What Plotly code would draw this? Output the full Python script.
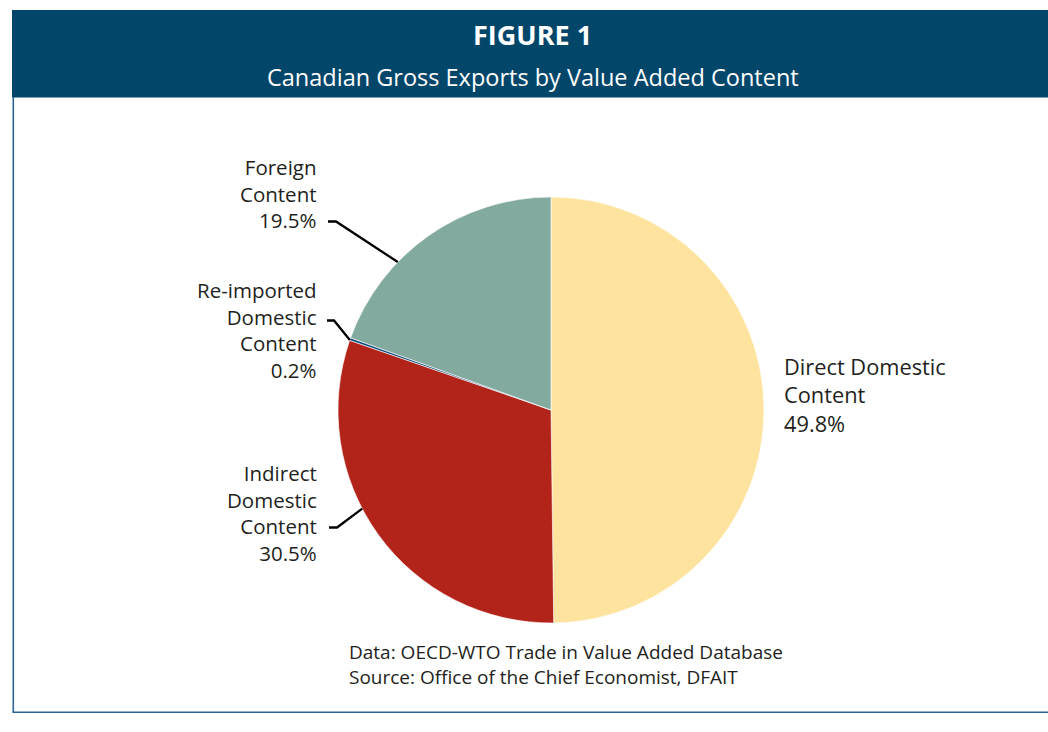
import math
import plotly.graph_objects as go

# Shares of Canadian gross exports by value-added content (%)
categories = ["Direct Domestic Content", "Indirect Domestic Content",
              "Re-imported Domestic Content", "Foreign Content"]
shares = [49.8, 30.5, 0.2, 19.5]
slice_colors = ["#FDE39D", "#B22319", "#114E7D", "#82AA9E"]

# Label text for each slice, split into lines
label_lines = {
    "Direct Domestic Content": ["Direct Domestic", "Content", "49.8%"],
    "Indirect Domestic Content": ["Indirect", "Domestic", "Content", "30.5%"],
    "Re-imported Domestic Content": ["Re-imported", "Domestic", "Content", "0.2%"],
    "Foreign Content": ["Foreign", "Content", "19.5%"],
}

W, H = 1048, 732
HEADER = "#02466A"
FRAME = "#2B6496"
INK = "#231F20"
FONT = "Open Sans"

# pie placement in pixels
cx, cy, r = 551, 410, 213


def px(x):
    return x / W


def py(y):
    return 1 - y / H


def edge(angle_ccw_from_top):
    a = math.radians(angle_ccw_from_top)
    return cx - r * math.sin(a), cy - r * math.cos(a)


fig = go.Figure(go.Pie(
    labels=categories,
    values=shares,
    sort=False,
    direction="clockwise",
    rotation=0,
    marker=dict(colors=slice_colors, line=dict(color="white", width=0.6)),
    textinfo="none",
    hoverinfo="label+percent",
    domain=dict(x=[px(cx - r), px(cx + r)], y=[py(cy + r), py(cy - r)]),
    showlegend=False,
))

shapes = [
    # header band
    dict(type="rect", xref="paper", yref="paper", x0=px(12), x1=px(W + 2),
         y0=py(97.5), y1=py(10), fillcolor=HEADER, line=dict(width=0), layer="below"),
    # frame: left and bottom rules
    dict(type="line", xref="paper", yref="paper", x0=px(13.3), x1=px(13.3),
         y0=py(97), y1=py(712.3), line=dict(color=FRAME, width=1.6)),
    dict(type="line", xref="paper", yref="paper", x0=px(12.5), x1=px(W + 2),
         y0=py(712.3), y1=py(712.3), line=dict(color=FRAME, width=1.6)),
]

# leader lines: (text end x, y) -> short horizontal -> pie edge
leaders = [
    ((328, 221.5), (336, 221.5), 46.0),
    ((327, 320.5), (334, 320.5), 70.8),
    ((329, 527.5), (337, 527.5), 117.6),
]
for (x0, y0), (x1, y1), ang in leaders:
    ex, ey = edge(ang)
    shapes.append(dict(type="path", xref="paper", yref="paper",
                       path=f"M {px(x0)} {py(y0)} L {px(x1)} {py(y1)} L {px(ex)} {py(ey)}",
                       line=dict(color="black", width=2.3)))

annotations = [
    dict(text="<b>FIGURE 1</b>", x=px(533), y=py(34), xref="paper", yref="paper",
         showarrow=False, xanchor="center", yanchor="middle",
         font=dict(family=FONT, size=27, color="white")),
    dict(text="Canadian Gross Exports by Value Added Content", x=px(533), y=py(77),
         xref="paper", yref="paper", showarrow=False, xanchor="center", yanchor="middle",
         font=dict(family=FONT, size=23.5, color="white")),
    dict(text="Data: OECD-WTO Trade in Value Added Database<br>"
              "Source: Office of the Chief Economist, DFAIT",
         x=px(347), y=py(664.5), xref="paper", yref="paper", showarrow=False,
         xanchor="left", yanchor="middle", align="left",
         font=dict(family=FONT, size=19, color=INK)),
]

# slice labels: anchor x, block centre y, font size, alignment
label_layout = {
    "Foreign Content": (319, 193, 20.5, "right"),
    "Re-imported Domestic Content": (319, 330, 20.5, "right"),
    "Indirect Domestic Content": (319, 513, 20.5, "right"),
    "Direct Domestic Content": (782, 395, 21.8, "left"),
}
for cat, (lx, ly, size, align) in label_layout.items():
    annotations.append(dict(
        text="<br>".join(label_lines[cat]), x=px(lx), y=py(ly),
        xref="paper", yref="paper", showarrow=False,
        xanchor=align, yanchor="middle", align=align,
        font=dict(family=FONT, size=size, color=INK)))

fig.update_layout(
    width=W, height=H,
    margin=dict(l=0, r=0, t=0, b=0),
    paper_bgcolor="white",
    plot_bgcolor="white",
    shapes=shapes,
    annotations=annotations,
)

fig.write_html("out.html")
